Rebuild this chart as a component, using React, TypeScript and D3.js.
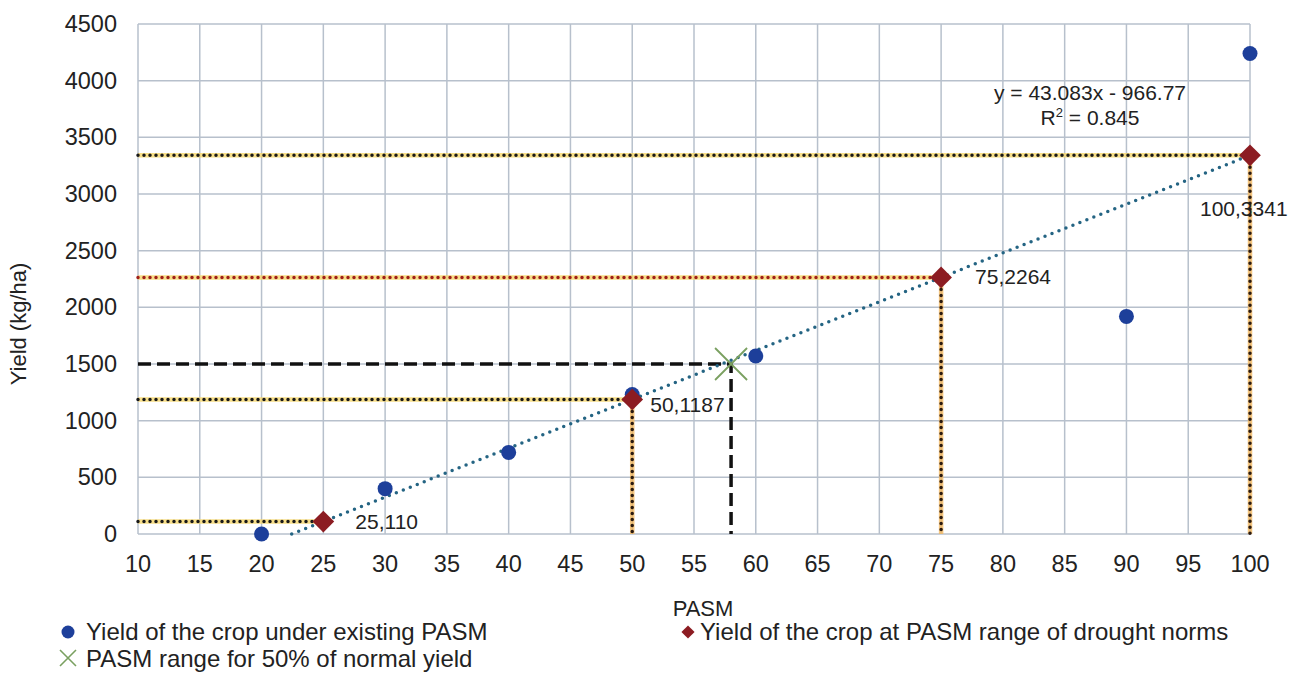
import { useEffect, useRef } from 'react';
import * as d3 from 'd3';

// observed yield at existing PASM
const pasmObserved = [20, 30, 40, 50, 60, 90, 100];
const yieldObserved = [0, 400, 720, 1230, 1570, 1920, 4240];

// drought norm points
const pasmNorms = [25, 50, 75, 100];
const yieldNorms = [110, 1187, 2264, 3341];
const normLabels = ['25,110', '50,1187', '75,2264', '100,3341'];
const normHasDrop = [false, true, true, true];
const normLineColor = ['#1a1a1a', '#1a1a1a', '#a0201a', '#1a1a1a'];

// 50% of normal yield
const halfPasm = 58;
const halfYield = 1500;

const slope = 43.083;
const intercept = -966.77;

const xTicks = [10, 15, 20, 25, 30, 35, 40, 45, 50, 55, 60, 65, 70, 75, 80, 85, 90, 95, 100];
const yTicks = [0, 500, 1000, 1500, 2000, 2500, 3000, 3500, 4000, 4500];

function App() {
    const ref = useRef<SVGSVGElement>(null);

    useEffect(() => {
        const svg = d3.select(ref.current);
        svg.selectAll('*').remove();

        const left = 138, right = 1250, top = 24, bottom = 534;
        const x = d3.scaleLinear().domain([10, 100]).range([left, right]);
        const y = d3.scaleLinear().domain([0, 4500]).range([bottom, top]);
        const font = 'Liberation Sans, Arial, sans-serif';
        const grid = '#b7c0cc';

        const g = svg.append('g');

        // grid
        g.selectAll('.vg').data(xTicks).enter().append('line')
            .attr('x1', (d) => x(d)).attr('x2', (d) => x(d))
            .attr('y1', top).attr('y2', bottom)
            .attr('stroke', grid).attr('stroke-width', 1.5);
        g.selectAll('.hg').data(yTicks).enter().append('line')
            .attr('x1', left).attr('x2', right)
            .attr('y1', (d) => y(d)).attr('y2', (d) => y(d))
            .attr('stroke', grid).attr('stroke-width', 1.5);

        // tick labels
        g.selectAll('.xt').data(xTicks).enter().append('text')
            .attr('x', (d) => x(d)).attr('y', bottom + 38)
            .attr('text-anchor', 'middle')
            .attr('font-family', font).attr('font-size', 23.5).attr('fill', '#222')
            .text((d) => d);
        g.selectAll('.yt').data(yTicks).enter().append('text')
            .attr('x', 117).attr('y', (d) => y(d) + 8)
            .attr('text-anchor', 'end')
            .attr('font-family', font).attr('font-size', 23.5).attr('fill', '#222')
            .text((d) => d);

        g.append('text')
            .attr('transform', `translate(26,${(top + bottom) / 2 + 45}) rotate(-90)`)
            .attr('text-anchor', 'middle')
            .attr('font-family', font).attr('font-size', 22).attr('fill', '#222')
            .text('Yield (kg/ha)');
        g.append('text')
            .attr('x', 703).attr('y', 616)
            .attr('text-anchor', 'middle')
            .attr('font-family', font).attr('font-size', 22).attr('fill', '#222')
            .text('PASM');

        const dotted = (x1: number, y1: number, x2: number, y2: number, base: string, dot: string) => {
            g.append('line')
                .attr('x1', x1).attr('y1', y1).attr('x2', x2).attr('y2', y2)
                .attr('stroke', base).attr('stroke-width', 4.5).attr('opacity', 0.8);
            g.append('line')
                .attr('x1', x1).attr('y1', y1).attr('x2', x2).attr('y2', y2)
                .attr('stroke', dot).attr('stroke-width', 3.5)
                .attr('stroke-linecap', 'round').attr('stroke-dasharray', '0 6');
        };

        // drop lines to drought norm points
        pasmNorms.forEach((p, i) => {
            dotted(left, y(yieldNorms[i]), x(p), y(yieldNorms[i]), '#f6d66a', normLineColor[i]);
            if (normHasDrop[i]) {
                dotted(x(p), y(yieldNorms[i]), x(p), bottom, '#f3b860', '#2a1a10');
            }
        });

        // 50% yield dashed lines
        g.append('path')
            .attr('d', `M${left},${y(halfYield)}H${x(halfPasm)}V${bottom}`)
            .attr('fill', 'none').attr('stroke', '#111').attr('stroke-width', 3.5)
            .attr('stroke-dasharray', '13 6');

        // trend line
        const x0 = -intercept / slope;
        g.append('line')
            .attr('x1', x(x0)).attr('y1', y(0))
            .attr('x2', x(100)).attr('y2', y(slope * 100 + intercept))
            .attr('stroke', '#246483').attr('stroke-width', 3.5)
            .attr('stroke-linecap', 'round').attr('stroke-dasharray', '0 7.5');

        // observed points
        g.selectAll('.obs').data(pasmObserved).enter().append('circle')
            .attr('cx', (d) => x(d)).attr('cy', (d, i) => y(yieldObserved[i]))
            .attr('r', 7.5).attr('fill', '#1d3f9a');

        // green X
        const cx = x(halfPasm), cy = y(halfYield);
        g.append('path')
            .attr('d', `M${cx - 16},${cy - 16}L${cx + 16},${cy + 16}M${cx - 16},${cy + 16}L${cx + 16},${cy - 16}`)
            .attr('stroke', '#7aa060').attr('stroke-width', 1.8);

        // diamonds
        const diamond = d3.symbol().type(d3.symbolDiamond2).size(300);
        g.selectAll('.norm').data(pasmNorms).enter().append('path')
            .attr('d', diamond)
            .attr('transform', (d, i) => `translate(${x(d)},${y(yieldNorms[i])})`)
            .attr('fill', '#8c1c22');

        const labelOffsets = [[32, 7], [18, 13], [34, 7], [-50, 61]];
        normLabels.forEach((t, i) => {
            g.append('text')
                .attr('x', x(pasmNorms[i]) + labelOffsets[i][0])
                .attr('y', y(yieldNorms[i]) + labelOffsets[i][1])
                .attr('font-family', font).attr('font-size', 21).attr('fill', '#222')
                .text(t);
        });

        // equation
        g.append('text')
            .attr('x', 1090).attr('y', 100)
            .attr('text-anchor', 'middle')
            .attr('font-family', font).attr('font-size', 21).attr('fill', '#222')
            .text('y = 43.083x - 966.77');
        const r2 = g.append('text')
            .attr('x', 1090).attr('y', 125)
            .attr('text-anchor', 'middle')
            .attr('font-family', font).attr('font-size', 21).attr('fill', '#222');
        r2.append('tspan').text('R');
        r2.append('tspan').attr('font-size', 13).attr('dy', -8).text('2');
        r2.append('tspan').attr('dy', 8).text(' = 0.845');

        // legend
        const lg = svg.append('g').attr('font-family', font).attr('font-size', 24).attr('fill', '#222');
        lg.append('circle').attr('cx', 68).attr('cy', 632).attr('r', 6.5).attr('fill', '#1d3f9a');
        lg.append('text').attr('x', 86).attr('y', 640).text('Yield of the crop under existing PASM');
        lg.append('path')
            .attr('d', `M60,650L76,666M60,666L76,650`)
            .attr('stroke', '#7aa060').attr('stroke-width', 1.6);
        lg.append('text').attr('x', 86).attr('y', 667).text('PASM range for 50% of normal yield');
        lg.append('path')
            .attr('d', d3.symbol().type(d3.symbolDiamond2).size(110))
            .attr('transform', 'translate(688,632)')
            .attr('fill', '#8c1c22');
        lg.append('text').attr('x', 700).attr('y', 640).text('Yield of the crop at PASM range of drought norms');
    }, []);

    return (
        <svg ref={ref} width={1293} height={699}
            style={{ position: 'absolute', left: 0, top: 0, background: '#fff' }} />
    );
}

export default App;
